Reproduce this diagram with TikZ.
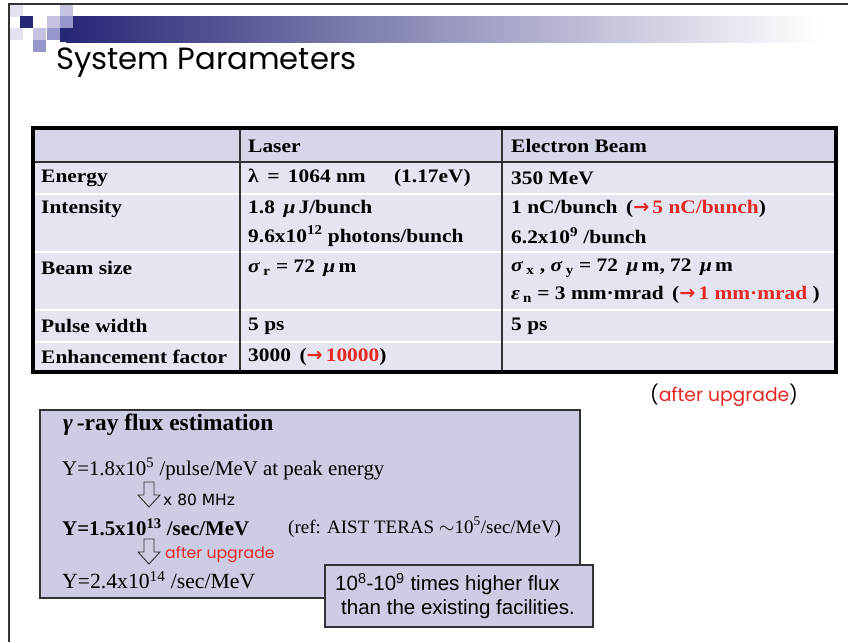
\documentclass[tikz,border=0pt]{standalone}
\usepackage{fontspec}
\setmainfont{Liberation Serif}
\setsansfont{Liberation Sans}
\newfontfamily\handfont{Poppins}
\newfontfamily\tablefont[FakeStretch=1.12]{Liberation Serif}
\newfontfamily\arrowfont{DejaVu Sans}
\usetikzlibrary{positioning}
\definecolor{navy}{RGB}{38,38,118}
\definecolor{framegray}{RGB}{50,50,50}
\definecolor{headfill}{RGB}{214,214,234}
\definecolor{bodyfill}{RGB}{229,229,241}
\definecolor{boxfill}{RGB}{204,204,228}
\definecolor{upred}{RGB}{230,40,36}
\definecolor{sqpale}{RGB}{226,226,240}
\definecolor{sqlight}{RGB}{196,196,226}
\definecolor{sqmid}{RGB}{150,150,204}
\tikzset{
  cell/.style={anchor=west, inner sep=0pt, font=\tablefont\fontsize{16.3}{18}\selectfont\bfseries},
  flux/.style={anchor=west, inner sep=0pt, font=\fontsize{17.8}{20}\selectfont},
  hand/.style={anchor=west, inner sep=0pt, font=\handfont\fontsize{13.4}{16}\selectfont},
  note/.style={anchor=west, inner sep=0pt, font=\sffamily\fontsize{17.5}{20}\selectfont},
  blockarr/.style={draw=framegray, fill=boxfill, line width=0.8pt}
}
\newcommand{\up}[1]{\textcolor{upred}{{\arrowfont\bfseries →}\,#1}}
\begin{document}
\begin{tikzpicture}[x=0.03cm, y=-0.03cm]
  \useasboundingbox (0,0) rectangle (848,642);
  % slide frame and header bar
  \fill[white] (0,0) rectangle (848,642);
  \shade[left color=navy, right color=white, middle color={rgb,255:red,150;green,150;blue,190}]
    (66,16) rectangle (820,42);
  \fill[white] (820,16) rectangle (848,42);
  \foreach \x/\y/\c in {10/5/sqpale, 60/5/sqlight, 20/16/navy, 47/16/sqlight, 60/16/sqmid,
                        10/28/sqpale, 33/28/sqlight, 47/28/sqmid, 33/40/sqmid}
    \fill[\c] (\x,\y) rectangle ++(13,12);
  \fill[navy] (60,28) rectangle (68,42);
  \draw[framegray, line width=2.5pt] (8,4) -- (848,4);
  \draw[framegray, line width=1.6pt] (9,4) -- (9,642);
  \node[anchor=west, inner sep=0pt, font=\handfont\fontsize{26.2}{30}\selectfont] (title) at (56,63) {System Parameters};

  % parameter table
  \fill[headfill] (33,128) rectangle (836,162);
  \fill[bodyfill] (33,162) rectangle (836,372);
  \foreach \y in {194,252,310,342}
    \draw[white, line width=1.2pt] (33,\y) -- (836,\y);
  \draw[framegray, line width=1.5pt] (33,162) -- (836,162);
  \draw[framegray, line width=1.2pt] (240,128) -- (240,372);
  \draw[framegray, line width=1.2pt] (502,128) -- (502,372);
  \draw[black, line width=2.6pt] (33,128) rectangle (836,372);

  \node[cell] (laser) at (248,146) {Laser};
  \node[cell] (ebeam) at (511,146) {Electron Beam};
  \node[cell] (energy) at (41,178) {Energy};
  \node[cell] (intens) at (41,209) {Intensity};
  \node[cell] (bsize) at (41,268) {Beam size};
  \node[cell] (pulse) at (41,326) {Pulse width};
  \node[cell] (enh) at (41,357) {Enhancement factor};

  \node[cell] (lenergy) at (248,178) {λ \,=\, 1064 nm \hspace{1.2em}(1.17eV)};
  \node[cell] (lint) at (248,209) {1.8 \,\textit{μ}\,J/bunch};
  \node[cell] (lphot) at (248,236) {9.6x10\textsuperscript{12} photons/bunch};
  \node[cell] (lsize) at (248,268) {\textit{σ}\,\textsubscript{r} = 72 \,\textit{μ}\,m};
  \node[cell] (lpulse) at (248,326) {5 ps};
  \node[cell] (lenh) at (248,357) {3000 \,(\up{10000})};

  \node[cell] (eenergy) at (511,178) {350 MeV};
  \node[cell] (eint) at (511,209) {1 nC/bunch \,(\up{5 nC/bunch})};
  \node[cell] (enum) at (511,236) {6.2x10\textsuperscript{9} /bunch};
  \node[cell] (esize) at (511,268) {\textit{σ}\,\textsubscript{x} , \textit{σ}\,\textsubscript{y} = 72 \,\textit{μ}\,m, 72 \,\textit{μ}\,m};
  \node[cell] (eemit) at (511,295) {\textit{ε}\,\textsubscript{n} = 3 mm·mrad \,(\up{1 mm·mrad} )};
  \node[cell] (epulse) at (511,326) {5 ps};

  \node[hand, font=\handfont\fontsize{16}{18}\selectfont] (upnote) at (650,395) {(\textcolor{upred}{after upgrade})};

  % gamma-ray flux box
  \draw[framegray, fill=boxfill, line width=0.9pt] (40,410) rectangle (580,598);
  \node[flux, font=\fontsize{20}{22}\selectfont\bfseries] (ftitle) at (63,425) {\textit{γ}\,-ray flux estimation};
  \node[flux] (y1) at (62,469) {Y=1.8x10\textsuperscript{5} /pulse/MeV at peak energy};
  \node[flux, font=\fontsize{17.8}{20}\selectfont\bfseries] (y2) at (62,527) {Y=1.5x10\textsuperscript{13} /sec/MeV};
  \node[flux, font=\fontsize{16.2}{19}\selectfont] (ref) at (288,527) {(ref: AIST TERAS $\sim$10\textsuperscript{5}/sec/MeV)};
  \node[flux, font=\fontsize{18.5}{20}\selectfont] (y3) at (62,580) {Y=2.4x10\textsuperscript{14} /sec/MeV};
  \foreach \t in {482,539}
    \draw[blockarr] (144,\t) -- (154,\t) -- (154,\t+13) -- (160,\t+13) -- (149,\t+25)
      -- (138,\t+13) -- (144,\t+13) -- cycle;
  \node[anchor=west, inner sep=0pt, font=\arrowfont\fontsize{13.2}{15}\selectfont] (rate) at (163,500) {x 80 MHz};
  \node[hand] (upgr) at (165,555) {\textcolor{upred}{after upgrade}};

  % note box
  \draw[framegray, fill=boxfill, line width=0.9pt] (325,565) rectangle (593,627);
  \node[note] (gain1) at (335,584) {10\textsuperscript{8}-10\textsuperscript{9} times higher flux};
  \node[note] (gain2) at (341,609) {than the existing facilities.};
\end{tikzpicture}
\end{document}
